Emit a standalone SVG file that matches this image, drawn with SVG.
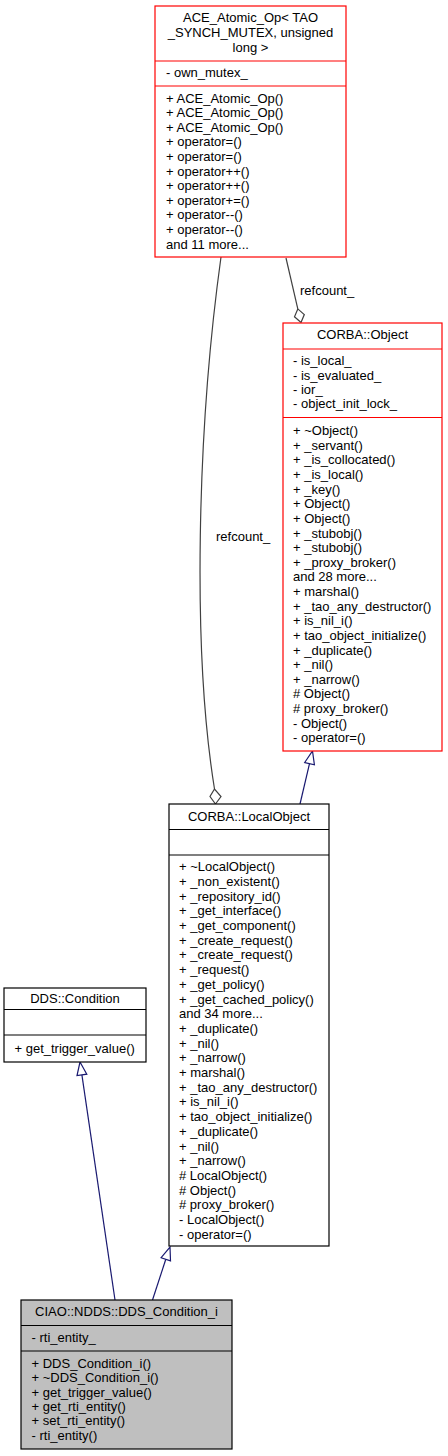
<svg xmlns="http://www.w3.org/2000/svg" width="448" height="1456" viewBox="0 0 448 1456">
<style>
text{font-family:"Liberation Sans",Arial,Helvetica,sans-serif;font-size:13px;fill:#000}
.c{text-anchor:middle}
.red{fill:#fff;stroke:#ff0000;stroke-width:1.2}
.blk{fill:#fff;stroke:#000;stroke-width:1.2}
.cur{fill:#bfbfbf;stroke:#000;stroke-width:1.2}
.sr{stroke:#ff0000;stroke-width:1.2}
.sb{stroke:#000;stroke-width:1.2}
.agg{fill:none;stroke:#404040;stroke-width:1.2}
.dia{fill:#fff;stroke:#404040;stroke-width:1.2}
.inh{fill:none;stroke:#191970;stroke-width:1.2}
.tri{fill:#fff;stroke:#191970;stroke-width:1.2}
</style>
<rect width="448" height="1456" fill="#fff"/>
<g id="connectors">
<path class="agg" d="M221,257 C197,430 192,650 214.5,789"/>
<polygon class="dia" points="215.5,804 221,796.5 214.5,789 210,796.5"/>
<text x="216" y="541">refcount_</text>
<path class="agg" d="M286,258 L297.8,308.9"/>
<polygon class="dia" points="301,322.5 304.3,314.6 297.8,308.9 294.5,316.8"/>
<text x="300" y="294.5">refcount_</text>
<path class="inh" d="M300,804 L309.5,763.6"/>
<polygon class="tri" points="312.5,751 314.4,764.8 304.7,762.5"/>
<path class="inh" d="M115,1300 L81.9,1074.9"/>
<polygon class="tri" points="80,1062 86.8,1074.2 77,1075.6"/>
<path class="inh" d="M152.5,1300 L165.8,1259.3"/>
<polygon class="tri" points="170,1247 170.5,1260.9 161.1,1257.7"/>
</g>
<g id="ace_atomic_op">
<rect class="red" x="155" y="6" width="191" height="251"/>
<line class="sr" x1="155" y1="61" x2="346" y2="61"/>
<line class="sr" x1="155" y1="86" x2="346" y2="86"/>
<text class="c" x="250.5" y="21.5">ACE_Atomic_Op&lt; TAO</text>
<text class="c" x="250.5" y="36.5">_SYNCH_MUTEX, unsigned</text>
<text class="c" x="250.5" y="51.5">long &gt;</text>
<text x="166" y="76.5">- own_mutex_</text>
<text x="166" y="102.5">+ ACE_Atomic_Op()</text>
<text x="166" y="117.1">+ ACE_Atomic_Op()</text>
<text x="166" y="131.7">+ ACE_Atomic_Op()</text>
<text x="166" y="146.3">+ operator=()</text>
<text x="166" y="160.9">+ operator=()</text>
<text x="166" y="175.5">+ operator++()</text>
<text x="166" y="190.1">+ operator++()</text>
<text x="166" y="204.7">+ operator+=()</text>
<text x="166" y="219.3">+ operator--()</text>
<text x="166" y="233.9">+ operator--()</text>
<text x="166" y="248.5">and 11 more...</text>
</g>
<g id="corba_object">
<rect class="red" x="283" y="323" width="159" height="428"/>
<line class="sr" x1="283" y1="349" x2="442" y2="349"/>
<line class="sr" x1="283" y1="417.5" x2="442" y2="417.5"/>
<text class="c" x="362.5" y="338.5">CORBA::Object</text>
<text x="293" y="365.2">- is_local_</text>
<text x="293" y="379.6">- is_evaluated_</text>
<text x="293" y="394">- ior_</text>
<text x="293" y="408.4">- object_init_lock_</text>
<text x="293" y="435.2">+ ~Object()</text>
<text x="293" y="449.8">+ _servant()</text>
<text x="293" y="464.4">+ _is_collocated()</text>
<text x="293" y="479.1">+ _is_local()</text>
<text x="293" y="493.7">+ _key()</text>
<text x="293" y="508.3">+ Object()</text>
<text x="293" y="522.9">+ Object()</text>
<text x="293" y="537.5">+ _stubobj()</text>
<text x="293" y="552.2">+ _stubobj()</text>
<text x="293" y="566.8">+ _proxy_broker()</text>
<text x="293" y="581.4">and 28 more...</text>
<text x="293" y="596">+ marshal()</text>
<text x="293" y="610.6">+ _tao_any_destructor()</text>
<text x="293" y="625.3">+ is_nil_i()</text>
<text x="293" y="639.9">+ tao_object_initialize()</text>
<text x="293" y="654.5">+ _duplicate()</text>
<text x="293" y="669.1">+ _nil()</text>
<text x="293" y="683.7">+ _narrow()</text>
<text x="293" y="698.4"># Object()</text>
<text x="293" y="713"># proxy_broker()</text>
<text x="293" y="727.6">- Object()</text>
<text x="293" y="742.2">- operator=()</text>
</g>
<g id="corba_localobject">
<rect class="blk" x="169" y="804" width="160" height="442"/>
<line class="sb" x1="169" y1="829.5" x2="329" y2="829.5"/>
<line class="sb" x1="169" y1="855" x2="329" y2="855"/>
<text class="c" x="249" y="820.5">CORBA::LocalObject</text>
<text x="179" y="871.2">+ ~LocalObject()</text>
<text x="179" y="885.9">+ _non_existent()</text>
<text x="179" y="900.6">+ _repository_id()</text>
<text x="179" y="915.3">+ _get_interface()</text>
<text x="179" y="930">+ _get_component()</text>
<text x="179" y="944.7">+ _create_request()</text>
<text x="179" y="959.4">+ _create_request()</text>
<text x="179" y="974.1">+ _request()</text>
<text x="179" y="988.8">+ _get_policy()</text>
<text x="179" y="1003.5">+ _get_cached_policy()</text>
<text x="179" y="1018.2">and 34 more...</text>
<text x="179" y="1032.9">+ _duplicate()</text>
<text x="179" y="1047.6">+ _nil()</text>
<text x="179" y="1062.3">+ _narrow()</text>
<text x="179" y="1077">+ marshal()</text>
<text x="179" y="1091.7">+ _tao_any_destructor()</text>
<text x="179" y="1106.4">+ is_nil_i()</text>
<text x="179" y="1121.1">+ tao_object_initialize()</text>
<text x="179" y="1135.8">+ _duplicate()</text>
<text x="179" y="1150.5">+ _nil()</text>
<text x="179" y="1165.2">+ _narrow()</text>
<text x="179" y="1179.9"># LocalObject()</text>
<text x="179" y="1194.6"># Object()</text>
<text x="179" y="1209.3"># proxy_broker()</text>
<text x="179" y="1224">- LocalObject()</text>
<text x="179" y="1238.7">- operator=()</text>
</g>
<g id="dds_condition">
<rect class="blk" x="4" y="988" width="142" height="74"/>
<line class="sb" x1="4" y1="1009.5" x2="146" y2="1009.5"/>
<line class="sb" x1="4" y1="1035" x2="146" y2="1035"/>
<text class="c" x="75" y="1003">DDS::Condition</text>
<text x="14.5" y="1053">+ get_trigger_value()</text>
</g>
<g id="dds_condition_i">
<rect class="cur" x="21" y="1300" width="211" height="149"/>
<line class="sb" x1="21" y1="1325.5" x2="232" y2="1325.5"/>
<line class="sb" x1="21" y1="1351" x2="232" y2="1351"/>
<text class="c" x="126.5" y="1316.2">CIAO::NDDS::DDS_Condition_i</text>
<text x="31.5" y="1341.8">- rti_entity_</text>
<text x="31.5" y="1367.8">+ DDS_Condition_i()</text>
<text x="31.5" y="1382.2">+ ~DDS_Condition_i()</text>
<text x="31.5" y="1396.6">+ get_trigger_value()</text>
<text x="31.5" y="1411">+ get_rti_entity()</text>
<text x="31.5" y="1425.4">+ set_rti_entity()</text>
<text x="31.5" y="1439.8">- rti_entity()</text>
</g>
</svg>
